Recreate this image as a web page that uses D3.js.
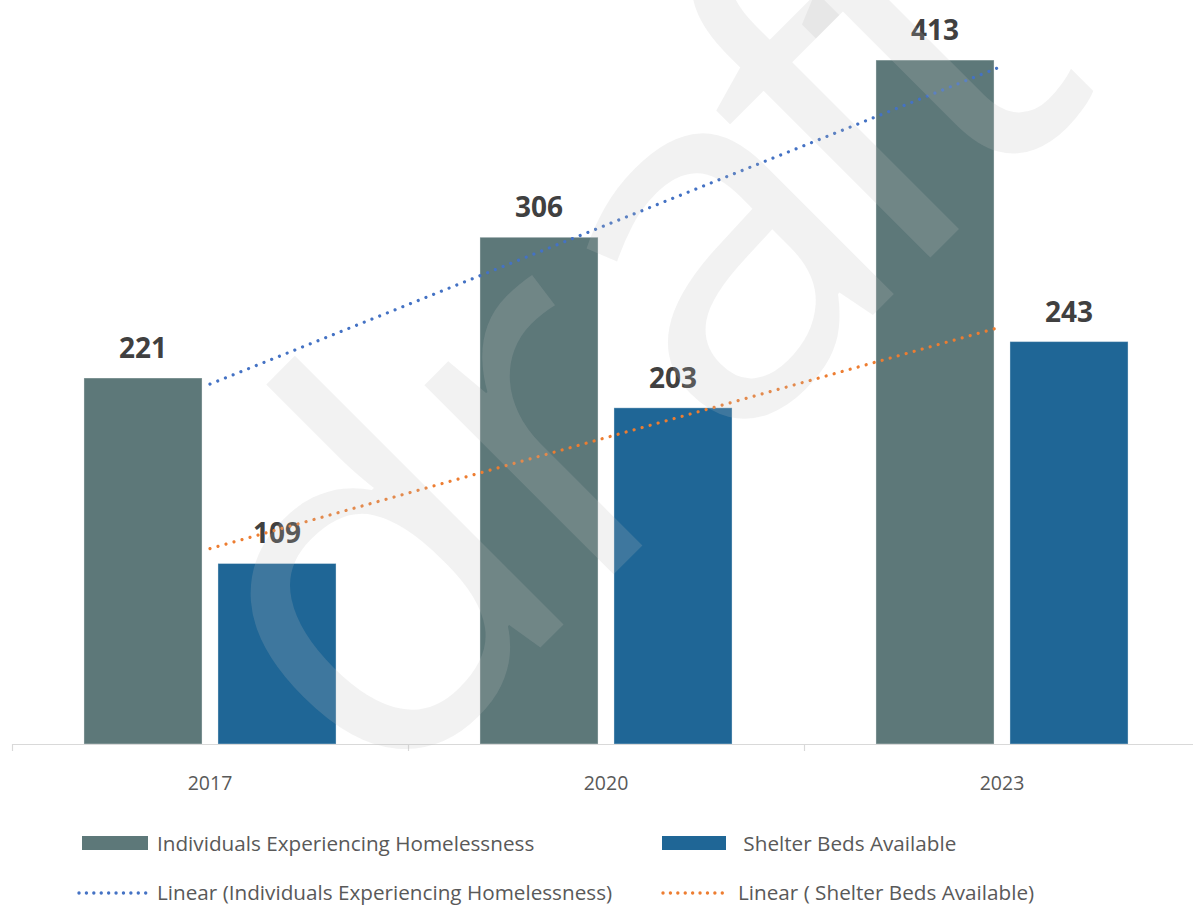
<!DOCTYPE html>
<html>
<head>
<meta charset="utf-8">
<script src="https://cdn.jsdelivr.net/npm/d3@7"></script>
<style>
  html, body { margin: 0; padding: 0; background: #ffffff; }
  svg { display: block; }
  text { font-family: "Open Sans", "Noto Sans", sans-serif; }
</style>
</head>
<body>
<svg id="chart" width="1193" height="905"></svg>
<script>
// Point-in-time counts by survey year
const years = ["2017", "2020", "2023"];
const seriesNames = ["Individuals Experiencing Homelessness", " Shelter Beds Available"];
const homeless = [221, 306, 413];
const shelterBeds = [109, 203, 243];
const trendNames = ["Linear (Individuals Experiencing Homelessness)", "Linear ( Shelter Beds Available)"];

const barColors = ["#5d7879", "#1f6696"];
const trendColors = ["#4472c4", "#ed7d31"];

const svg = d3.select("#chart");

const x0 = d3.scaleBand().domain(years).range([12, 1200]).padding(0);
const x1 = d3.scaleBand().domain([0, 1]).range([0, x0.bandwidth()])
  .paddingInner(0.119).paddingOuter(0.537);
const y = d3.scaleLinear().domain([0, 450]).range([744, -1.2]);

const rows = years.map((yr, i) => ({ year: yr, values: [homeless[i], shelterBeds[i]] }));

// Bars
const groups = svg.append("g").selectAll("g").data(rows).join("g")
  .attr("transform", d => `translate(${x0(d.year)},0)`);

groups.selectAll("rect").data(d => d.values.map((v, k) => ({ v, k }))).join("rect")
  .attr("x", d => x1(d.k))
  .attr("width", x1.bandwidth())
  .attr("y", d => y(d.v))
  .attr("height", d => y(0) - y(d.v))
  .attr("fill", d => barColors[d.k])
  .attr("stroke", "rgba(255,255,255,0.35)")
  .attr("stroke-width", 1);

// Value labels
groups.selectAll("text.val").data(d => d.values.map((v, k) => ({ v, k }))).join("text")
  .attr("class", "val")
  .attr("x", d => x1(d.k) + x1.bandwidth() / 2)
  .attr("y", d => y(d.v) - 20)
  .attr("text-anchor", "middle")
  .attr("font-family", "Lato, sans-serif")
  .attr("font-size", 28)
  .attr("font-weight", 700)
  .attr("fill", "#404040")
  .text(d => d.v);

// Category axis
const axis = svg.append("g");
axis.append("line")
  .attr("x1", 12).attr("x2", 1200)
  .attr("y1", 744.5).attr("y2", 744.5)
  .attr("stroke", "#d9d9d9").attr("stroke-width", 1.2);
const bounds = years.map(yr => x0(yr)).concat([x0.range()[1]]);
axis.selectAll("line.tick").data(bounds).join("line")
  .attr("class", "tick")
  .attr("x1", d => Math.round(d) + 0.5).attr("x2", d => Math.round(d) + 0.5)
  .attr("y1", 744).attr("y2", 751)
  .attr("stroke", "#d9d9d9").attr("stroke-width", 1.2);
axis.selectAll("text").data(years).join("text")
  .attr("x", d => x0(d) + x0.bandwidth() / 2)
  .attr("y", 790)
  .attr("text-anchor", "middle")
  .attr("font-size", 19.5)
  .attr("fill", "#595959")
  .text(d => d);

// Least-squares linear trend across category positions
function linearFit(vals) {
  const n = vals.length;
  const xs = d3.range(n);
  const mx = d3.mean(xs), my = d3.mean(vals);
  const sxy = d3.sum(xs, (xi, i) => (xi - mx) * (vals[i] - my));
  const sxx = d3.sum(xs, xi => (xi - mx) * (xi - mx));
  const b = sxy / sxx, a = my - b * mx;
  return xs.map(xi => a + b * xi);
}

const trendLine = d3.line()
  .x(d => x0(d.year) + x0.bandwidth() / 2)
  .y(d => y(d.v));

[homeless, shelterBeds].forEach((vals, k) => {
  const fitted = linearFit(vals);
  const ends = [0, years.length - 1].map(i => ({ year: years[i], v: fitted[i] }));
  svg.append("path")
    .datum(ends)
    .attr("d", trendLine)
    .attr("fill", "none")
    .attr("stroke", trendColors[k])
    .attr("stroke-width", 3.2)
    .attr("stroke-linecap", "round")
    .attr("stroke-dasharray", "0.01 8.3");
});

// Watermark
const wm = svg.append("g").attr("transform", "rotate(-45)");
wm.append("text")
  .attr("x", [-306, -15, 187, 421, 542].join(" "))
  .attr("y", 840)
  .attr("font-size", 500)
  .attr("font-family", "Lato, sans-serif")
  .attr("fill", "#bfbfbf")
  .attr("fill-opacity", 0.2)
  .text("draft");

// Legend
const legend = svg.append("g");
const legendItems = [
  { name: seriesNames[0], type: "bar", color: barColors[0], sx: 82, sw: 66, tx: 157, ty: 851 },
  { name: seriesNames[1], type: "bar", color: barColors[1], sx: 662, sw: 64, tx: 738, ty: 851 },
  { name: trendNames[0], type: "dot", color: trendColors[0], sx: 79, sw: 68, tx: 157, ty: 900 },
  { name: trendNames[1], type: "dot", color: trendColors[1], sx: 663, sw: 64, tx: 738, ty: 900 }
];
legendItems.forEach(it => {
  if (it.type === "bar") {
    legend.append("rect")
      .attr("x", it.sx).attr("y", it.ty - 15)
      .attr("width", it.sw).attr("height", 14)
      .attr("fill", it.color);
  } else {
    legend.append("line")
      .attr("x1", it.sx).attr("x2", it.sx + it.sw)
      .attr("y1", it.ty - 7).attr("y2", it.ty - 7)
      .attr("stroke", it.color)
      .attr("stroke-width", 3.4)
      .attr("stroke-linecap", "round")
      .attr("stroke-dasharray", "0.01 7.4");
  }
  legend.append("text")
    .attr("x", it.tx).attr("y", it.ty)
    .attr("font-size", 20.7)
    .attr("fill", "#595959")
    .style("white-space", "pre")
    .text(it.name);
});
</script>
</body>
</html>
